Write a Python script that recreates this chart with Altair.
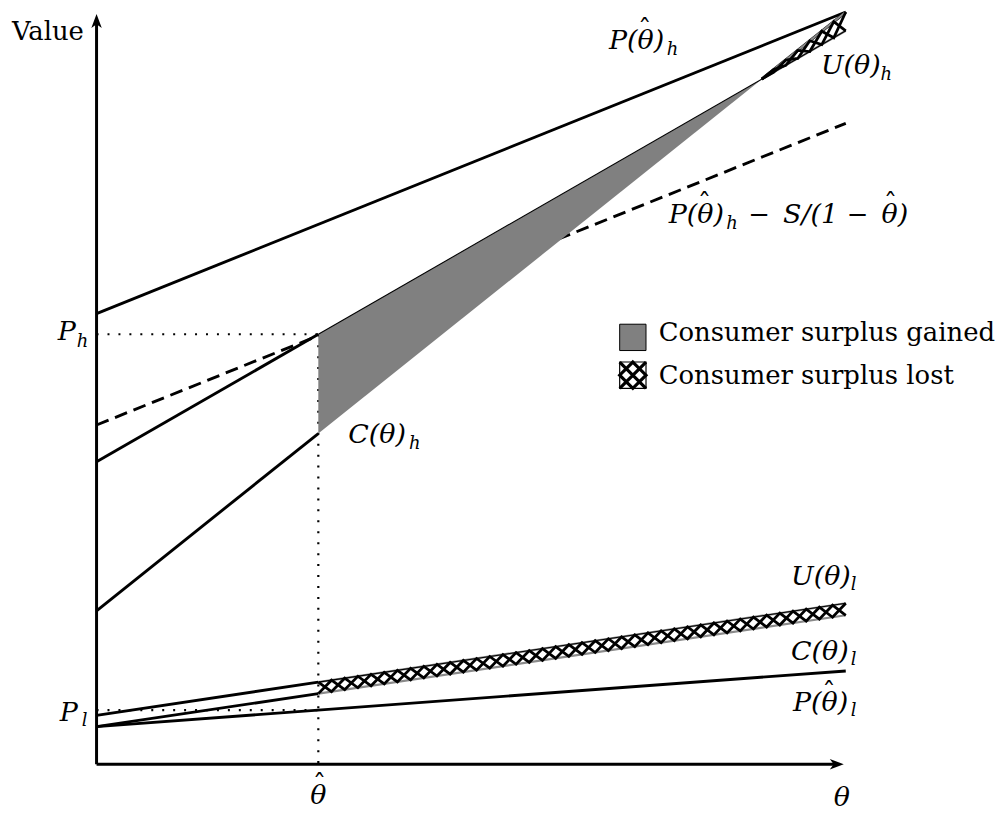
import altair as alt
import pandas as pd

# ---------------- data ----------------
theta_hat = 0.296
line_names = ["P_hat_h", "P_hat_h_minus_S", "U_h", "C_h", "P_hat_l", "U_l", "C_l"]
value_at_0 = [59.9, 45.1, 40.2, 20.4, 5.0, 6.5, 5.0]
value_at_1 = [100.0, 85.2, 97.5, 100.0, 12.4, 21.4, 19.8]

legend_labels = ["Consumer surplus gained", "Consumer surplus lost"]
y_title = "Value"

# annotation pieces: text, role, page-x, page-y (baseline), anchor
# role: main (italic), sub (italic subscript), hat, roman
pieces = [
    ("P(θ)", "main", 612, 47, "left"), ("h", "sub", 670, 53, "left"), ("ˆ", "hat", 648, 36, "center"),
    ("U(θ)", "main", 825, 72, "left"), ("h", "sub", 885, 78, "left"),
    ("P(θ)", "main", 672, 222, "left"), ("h", "sub", 730, 228, "left"), ("ˆ", "hat", 708, 211, "center"),
    ("−", "roman", 752, 222, "left"),
    ("S/(1", "main", 787, 222, "left"),
    ("−", "roman", 851, 222, "left"),
    ("θ)", "main", 886, 222, "left"), ("ˆ", "hat", 895, 211, "center"),
    ("C(θ)", "main", 350, 443, "left"), ("h", "sub", 411, 449, "left"),
    ("P", "main", 58, 340, "left"), ("h", "sub", 77, 347, "left"),
    ("P", "main", 60, 723, "left"), ("l", "sub", 82, 728, "left"),
    ("θ", "main", 320, 806, "center"), ("ˆ", "hat", 321, 795, "center"),
    ("θ", "main", 846, 808, "center"),
    ("U(θ)", "main", 795, 586, "left"), ("l", "sub", 855, 591, "left"),
    ("C(θ)", "main", 795, 661, "left"), ("l", "sub", 855, 666, "left"),
    ("P(θ)", "main", 797, 713, "left"), ("l", "sub", 855, 718, "left"), ("ˆ", "hat", 833, 702, "center"),
    (legend_labels[0], "roman", 662, 341, "left"),
    (legend_labels[1], "roman", 662, 384, "left"),
    (y_title, "roman", 12, 38, "left"),
]

# ---------------- helpers ----------------
V0 = dict(zip(line_names, value_at_0))
V1 = dict(zip(line_names, value_at_1))


def val(name, t):
    return V0[name] + (V1[name] - V0[name]) * t


def to_t(px):
    return (px - 97) / 753.0


def to_v(py):
    return (766 - py) / 7.56


t_cross = (V0["U_h"] - V0["C_h"]) / ((V1["C_h"] - V0["C_h"]) - (V1["U_h"] - V0["U_h"]))
P_h = val("U_h", theta_hat)
P_l = val("P_hat_l", theta_hat)


def seg_df(segs):
    rows = []
    for sid, name, a, b in segs:
        rows.append({"seg": sid, "t": a, "v": val(name, a)})
        rows.append({"seg": sid, "t": b, "v": val(name, b)})
    return pd.DataFrame(rows)


def zigzag(upper, lower, a, b, n, sid):
    rows = []
    for k in range(n + 1):
        t = a + (b - a) * k / n
        for z in (0, 1):
            name = upper if (k + z) % 2 == 0 else lower
            rows.append({"seg": f"{sid}{z}", "t": t, "v": val(name, t)})
    return pd.DataFrame(rows)


X = alt.X("t:Q", scale=alt.Scale(domain=[0, 1], nice=False, zero=False), axis=None)
Y = alt.Y("v:Q", scale=alt.Scale(domain=[0, 100], nice=False, zero=False), axis=None)


def line_layer(df, **kw):
    return alt.Chart(df).mark_line(**kw).encode(x=X, y=Y, detail="seg:N")


# dashed line
dashed = line_layer(seg_df([("d", "P_hat_h_minus_S", 0, 1)]),
                    color="black", strokeWidth=2.9, strokeDash=[13, 7])

# dotted guides
dotted_df = pd.DataFrame([
    {"seg": "ph", "t": 0, "v": P_h}, {"seg": "ph", "t": theta_hat, "v": P_h},
    {"seg": "pl", "t": 0, "v": P_l}, {"seg": "pl", "t": theta_hat, "v": P_l},
    {"seg": "vt", "t": theta_hat, "v": P_h}, {"seg": "vt", "t": theta_hat, "v": 0},
])
dotted = line_layer(dotted_df, color="black", strokeWidth=2.2, strokeDash=[2, 9])

# consumer surplus gained area
area_df = pd.DataFrame({
    "t": [theta_hat, t_cross],
    "v": [val("U_h", theta_hat), val("U_h", t_cross)],
    "v2": [val("C_h", theta_hat), val("C_h", t_cross)],
})
gained = alt.Chart(area_df).mark_area(color="#808080", opacity=1).encode(
    x=X, y=Y, y2="v2:Q")

# solid thick lines
solid = line_layer(seg_df([
    ("a", "P_hat_h", 0, 1),
    ("b", "U_h", 0, theta_hat),
    ("c", "C_h", 0, theta_hat),
    ("c2", "C_h", t_cross, 1),
    ("e", "P_hat_l", 0, 1),
    ("f", "U_l", 0, theta_hat),
    ("g", "C_l", 0, theta_hat),
]), color="black", strokeWidth=2.9)

# thin edges
thin_black = line_layer(seg_df([
    ("u", "U_h", theta_hat, 1),
    ("ul", "U_l", theta_hat, 1),
]), color="black", strokeWidth=1.1)
grey_edges = line_layer(seg_df([
    ("ul", "U_l", theta_hat, 1),
    ("cl", "C_l", theta_hat, 1),
    ("ch", "C_h", t_cross, 1),
    ("uh", "U_h", t_cross, 1),
]), color="#8a8a8a", strokeWidth=2.2)

# hatch (consumer surplus lost)
hatch_df = pd.concat([
    zigzag("U_l", "C_l", theta_hat, 1, 40, "low"),
    zigzag("C_h", "U_h", t_cross, 1, 7, "high"),
])
hatch = line_layer(hatch_df, color="black", strokeWidth=2.8)

# axes with arrows
axes_df = pd.DataFrame([
    {"seg": "x", "t": 0, "v": 0}, {"seg": "x", "t": 0.988, "v": 0},
    {"seg": "y", "t": 0, "v": 0}, {"seg": "y", "t": 0, "v": 98.8},
])
axes = line_layer(axes_df, color="black", strokeWidth=3)
arrow_x = alt.Chart(pd.DataFrame({"t": [0.988], "v": [0]})).mark_point(
    shape="M1,0L-1,-0.75L-0.45,0L-1,0.75Z", filled=True, color="black",
    size=196, opacity=1).encode(x=X, y=Y)
arrow_y = alt.Chart(pd.DataFrame({"t": [0], "v": [98.8]})).mark_point(
    shape="M0,-1L-0.75,1L0,0.45L0.75,1Z", filled=True, color="black",
    size=196, opacity=1).encode(x=X, y=Y)

# legend boxes
box_t = to_t(636)
box_gained = alt.Chart(pd.DataFrame({"t": [box_t], "v": [to_v(337)]})).mark_point(
    shape="square", filled=True, fill="#808080", stroke="black", strokeWidth=1,
    size=700, opacity=1).encode(x=X, y=Y)
lost_df = pd.DataFrame({"t": [box_t], "v": [to_v(375)]})
box_lost_outline = alt.Chart(lost_df).mark_point(
    shape="M-1,-1L1,-1L1,1L-1,1Z", filled=False, stroke="black", strokeWidth=1.2,
    size=700, opacity=1).encode(x=X, y=Y)
box_lost_hatch = alt.Chart(lost_df).mark_point(
    shape="M-1,-1L1,1M-1,1L1,-1M0,-1L1,0L0,1L-1,0Z", filled=False, stroke="black",
    strokeWidth=3.2, size=700, opacity=1).encode(x=X, y=Y)

FONT = "DejaVu Serif"
role_style = {
    "main": dict(fontSize=27, fontStyle="italic"),
    "sub": dict(fontSize=18, fontStyle="italic"),
    "hat": dict(fontSize=27),
    "roman": dict(fontSize=26),
}

text_layers = []
for role, style in role_style.items():
    for anchor in ("left", "center"):
        sel = [p for p in pieces if p[1] == role and p[4] == anchor]
        if not sel:
            continue
        df = pd.DataFrame({
            "label": [p[0] for p in sel],
            "t": [to_t(p[2]) for p in sel],
            "v": [to_v(p[3]) for p in sel],
        })
        text_layers.append(
            alt.Chart(df).mark_text(font=FONT, align=anchor, baseline="alphabetic",
                                    color="black", **style)
            .encode(x=X, y=Y, text="label:N")
        )

chart = alt.layer(
    dashed, dotted, gained, solid, grey_edges, thin_black, hatch, axes,
    arrow_x, arrow_y, box_gained, box_lost_outline, box_lost_hatch,
    *text_layers,
).properties(
    width=753, height=756,
    padding={"left": 89, "top": 2, "right": 152, "bottom": 47},
    autosize=alt.AutoSizeParams(type="none"),
).configure(background="white").configure_view(stroke=None)

chart.save("out.html", embed_options={"renderer": "svg", "actions": False})
